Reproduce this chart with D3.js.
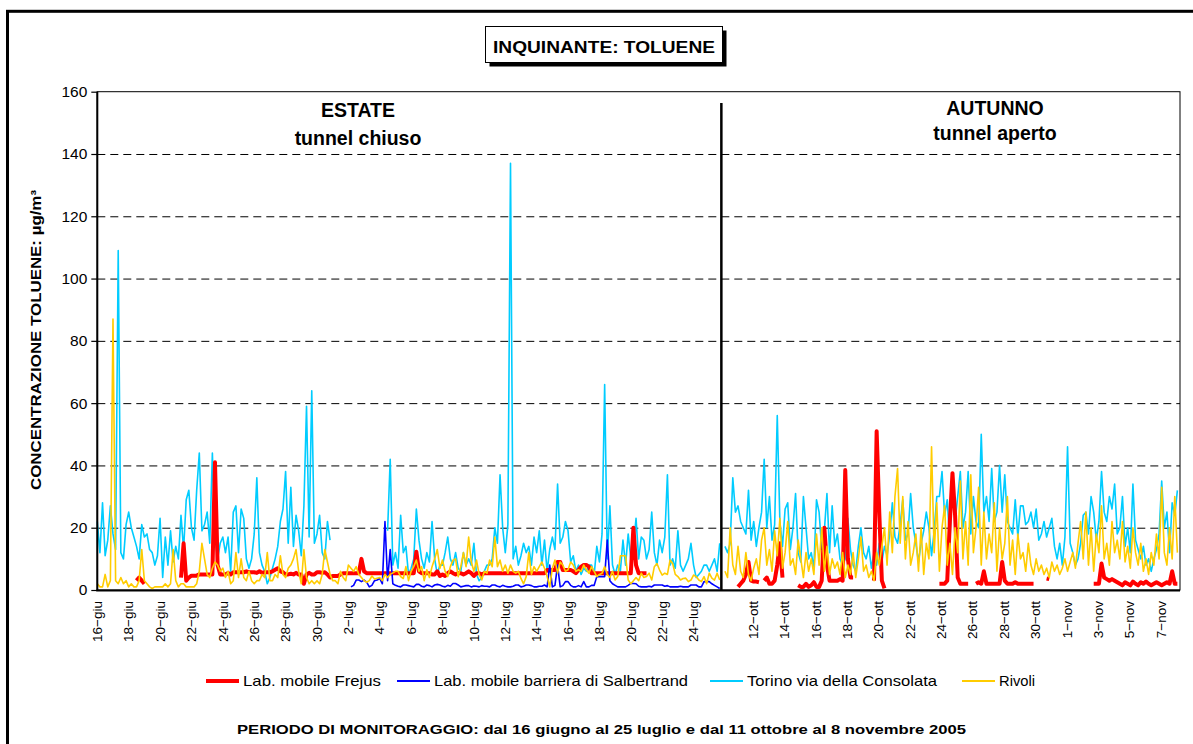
<!DOCTYPE html>
<html>
<head>
<meta charset="utf-8">
<script src="https://cdn.jsdelivr.net/npm/d3@7"></script>
<style>
  body { margin: 0; background: #fff; }
  svg { display: block; font-family: "Liberation Sans", Arial, sans-serif; }
</style>
</head>
<body>
<svg id="chart" width="1193" height="744"></svg>
<script>
// Toluene concentrations (µg/m³), one value every 4 hours.
// Summer campaign: 16 June – 25 July 2005 (6 values per day).
const torinoEstate = [
  22,12,28,11,16,27,  18,13,109,12,10,21,  25,20,17,14,10,21,  17,18,13,12,8,11,
  23,4,17,8,19,9,     14,10,24,13,29,32,   20,16,32,44,19,21,  25,15,44,17,10,15,
  17,12,17,6,25,27,   12,26,23,10,7,10,    18,36,12,8,6,2,     4,7,10,14,22,26,
  38,15,33,14,24,19,  11,27,59,17,64,15,   18,24,12,10,22,16,
  null,null,null,null,null,null,  null,null,null,null,null,null,  null,null,null,null,null,null,
  null,null,null,19,42,8,  12,7,24,12,14,5,  7,10,26,16,10,7,  12,9,22,10,5,8,
  8,12,17,10,8,12,    7,6,12,8,10,8,       15,5,3,4,6,8,       8,10,20,15,37,20,
  12,21,137,10,14,8,  11,15,12,14,8,17,    12,19,8,16,6,13,    17,13,34,15,17,22,
  19,9,11,6,8,5,      7,6,8,8,5,14,        9,18,66,10,27,8,    5,8,6,16,8,18,
  10,14,23,10,17,16,  10,13,25,12,8,16,    12,17,37,8,10,7,    19,8,6,8,10,15,
  8,4,5,6,8,8,        6,8,10,6,15
];
const rivoliEstate = [
  2,1,1,5,1,3,        87,3,2,4,2,3,        1,2,1,1,3,13,       3,2,1,0.5,1,1,
  1,1,2,1,2,13,       3,1,2,2,1,1,         1,1,2,6,15,10,      5,4,7,9,8,6,
  7,4,6,2,3,12,       4,10,4,3,6,3,        2,3,3,5,4,12,       3,3,5,4,11,5,
  4,7,8,10,13,6,      2,13,4,2,3,2,        3,2,5,13,9,5,       3,3,2,6,4,3,
  8,7,6,7.5,5,4,      3,2.5,3,4.5,3.5,3.8, 4,3,5,4,5,5.5,      6,6,4.3,3.7,7.5,3,
  6,7.5,9.6,6,7.5,3,  6.5,4,7.5,10,13,7,   9.6,6,4.3,7.5,9.6,10, 4.3,7.5,12,7.5,17,9,
  6,9.6,5,3.2,6,5.4,  9.6,7.5,17,7.5,9.6,6, 8,5.4,8,6,5.4,6,   3.7,2,4.3,12,5,7.5,
  6,7.5,9,7,4.3,1,    7,9.6,5.4,9,8,6,     6.5,9,8,6,6.5,6,    8,6.5,5.4,7.5,6,4.3,
  5,5.4,7.5,5,4,6,    3.2,4.3,11,11,11,3.2, 2,3,4,3,5.4,4,     4.3,5.4,3.2,7.5,8.5,6.4,
  4.8,5.4,5,9.6,8.5,5, 4.3,3.2,3.7,3.8,2.7,3.2, 4.8,4.3,3.2,2.7,4.3,2, 5.4,3.8,3.2,5.4,3.2
];
const frejusEstate = [
  null,null,null,null,null,null,  null,null,null,null,null,null,  null,null,null,3,4,3,
  2,null,null,null,null,null,     null,null,null,null,null,null,  null,null,4,15,3,4,
  4.6,4.6,4.6,5,5,5,  5,5,5,41,8,5,        5,5,5.5,5,5.7,5.7,  5.7,5.7,5.7,6,5.7,5.7,
  5.7,5.5,6,5.5,5.7,5.7, 5.7,6,6.5,7,6,5.7, 5,5,5.2,5,5.5,5,   5,2,5,5.5,5,5,
  5.7,5.7,5.5,5.7,5,4, 4.5,4.5,4.5,5,5.4,5.4, 5.4,5.4,5.4,5.4,5.4,10, 6,5.4,5.4,5.4,5.4,5.4,
  5.4,5.4,5.4,5.4,5.4,5.4, 5.4,5.4,5.4,5.4,5.4,5.4, 5.4,5.4,12.3,6,5.4,5.4, 5.4,5.4,5,5,6,4.5,
  5,4.5,5.4,6,5.4,5,  5.4,5.4,5,5.4,6,5.4, 4.5,5.4,5.4,5,5.4,5.4, 5.4,5.4,5.4,5.4,5.4,5.4,
  5.4,5.4,5.4,5.4,5.4,5.4, 5.4,5.4,5.4,5.4,5.4,5.4, 5.4,5.4,5.4,5.4,6.4,6.4, 6.4,6.4,9,9,6.4,6.4,
  6.4,6.4,6,5.4,6.4,7.5, 8,8,7.5,5.4,5.4,5.4, 5.4,5.4,5.4,5.4,5.4,5.4, 5.4,5.4,5.4,5.4,5.4,5.4,
  5.4,20,8,5.4,5.4,5.4, 5.4,null,null,null,null,null,
  null,null,null,null,null,null,  null,null,null,null,null,null,  null,null,null,null,null,null,
  null,null,null,null,null
];
const salbertrandEstate = [
  null,null,null,null,null,null,  null,null,null,null,null,null,  null,null,null,null,null,null,
  null,null,null,null,null,null,  null,null,null,null,null,null,  null,null,null,null,null,null,
  null,null,null,null,null,null,  null,null,null,null,null,null,  null,null,null,null,null,null,
  null,null,null,null,null,null,  null,null,null,null,null,null,  null,null,null,null,null,null,
  null,null,null,null,null,null,  null,null,null,null,null,null,  null,null,null,null,null,null,
  null,null,null,null,null,null,
  null,1,1.5,3.2,3.2,2.7,  3.2,2.5,1,1.5,3,3.2,  3.7,2,22,3,13,2,   1.5,1.2,1,1.6,1.6,1.4,
  1.2,1,1.8,1.8,1.2,1,     1.6,1.4,1,1.6,1.8,1.6, 1.2,1,1.5,1.2,2.1,2.1, 1.6,1,1.2,1.4,1.4,1,
  1.3,1.2,1,1.4,1.2,1.2,   1,1.6,1.6,1.2,1,1.5,   1.2,1,1,1.2,1.6,1.6,   1,1.2,1.6,1.6,1.4,1,
  1,1.2,1.2,1.6,1,8,       1,1.5,8,1,1.4,2.7,     2.7,1.5,1,1,1.4,1,     2.7,1,1,1.5,1.5,4.3,
  4.3,4.3,4.3,16,3,2,      1.5,1,1,1,1,1.5,       2.1,2.1,2,1.2,1,1,     1,1.2,1,1.6,1.6,1.6,
  1.6,1.2,1.4,1,1,1,       1,1.2,1,1,1,1.6,       1.6,1.6,1,1,2.7,2.7,   2.7,2,1.5,1,0.5
];

// Autumn campaign: 11 October – 8 November 2005 (6 values per day).
const torinoAutunno = [
  14,12,15,36,25,27,  22,20,18,32,16,22,  14,20,25,42,20,30,  16,21,56,22,14,26,
  28,13,20,31,12,9,   30,20,10,12,7,29,   25,13,19,31,12,27,  14,18,10,8,10,23,
  13,8,6,14,20,12,    10,14,7,12,8,15,    9,14,11,18,28,17,   15,21,29,16,18,31,
  20,15,9,15,19,25,   20,11,19,30,30,38,  24,29,15,36,22,30,  38,20,25,38,18,30,
  22,20,50,25,30,22,  39,22,25,40,25,37,  22,20,18,29,17,27,  27,21,22,25,20,26,
  16,18,22,17,20,23,  14,10,15,8,17,46,   15,12,8,10,15,24,   25,18,30,25,16,22,
  38,25,22,30,26,34,  18,20,30,14,20,12,  34,16,13,10,14,8,   10,6,10,13,18,35,
  20,25,12,28,24,32
];
const rivoliAutunno = [
  6,4,20,8,5,14,      6,4,12,5,3,7,       10,5,16,20,8,13,    6,19,11,23,7,12,
  22,8,10,5,16,10,    4,12,6,10,5,18,     8,20,6,14,5,10,     7,9,5,12,4,8,
  5,12,4,10,17,6,     8,4,6,3,12,8,       14,20,8,25,12,30,   39,15,30,10,22,8,
  12,18,6,20,5,15,    10,46,12,28,6,20,   27,8,15,5,20,12,    35,10,22,8,37,12,
  20,33,8,25,10,18,   12,28,6,20,10,15,   30,8,16,5,18,10,    12,6,15,8,5,10,
  6,8,5,7,4,9,        6,8,5,7,10,6,       9,12,7,15,22,10,    25,8,20,6,18,12,
  27,10,15,8,22,12,   16,10,22,9,14,7,    20,12,8,15,6,10,    5,12,8,18,10,33,
  12,8,20,10,30,12
];
const frejusAutunno = [
  null,null,null,null,null,1,  2,3,5,9,3,2.7,  2.7,2.5,null,3,4,2,  2,3,8,15,4,null,
  null,null,null,null,1.5,1,   1,2,1,1.5,2.5,1, 1,3,20,8,3,3,     3,3,3.5,3,38.5,10,
  4,4,null,null,null,null,     null,null,null,3,51,25,  3,0.5,null,null,null,null,
  null,null,null,null,null,null,  null,null,null,null,null,null,  null,null,null,null,2,2,
  2,3,22,37.5,24,4,   2,2,2,2,null,null,  2,2.5,2,6,2,2,   2,2,2,2,9,3,
  2,2,2,2.5,2,2,      2,2,2,2,2,null,     null,null,null,3.7,3.5,null,
  null,null,null,null,null,null,  null,null,null,null,null,null,  null,null,null,2,2,2,
  8.5,4,3.5,3,3.5,3,  2.5,2,1.5,2.5,2,1.5,  2.7,2,1.5,2.5,2,2.7,  2,1.5,2,2.5,2,1.5,
  2,2.5,2,6,2,2
];

// Day labels on the time axis (every second day)
const labelsEstate = ["16−giu","18−giu","20−giu","22−giu","24−giu","26−giu","28−giu","30−giu",
  "2−lug","4−lug","6−lug","8−lug","10−lug","12−lug","14−lug","16−lug","18−lug","20−lug","22−lug","24−lug"];
const labelsAutunno = ["12−ott","14−ott","16−ott","18−ott","20−ott","22−ott","24−ott","26−ott",
  "28−ott","30−ott","1−nov","3−nov","5−nov","7−nov"];
const yTicks = [0, 20, 40, 60, 80, 100, 120, 140, 160];

const seriesNames = ["Lab. mobile Frejus", "Lab. mobile barriera di Salbertrand", "Torino via della Consolata", "Rivoli"];
const seriesColors = ["#ff0000", "#0000ff", "#00ccff", "#ffcc00"];

// ---- layout ----
const STEP = 4;               // hours between values
const AUTUMN_START = 960;     // hour slot where the autumn campaign begins on the axis
const TOTAL = 1656;           // total hour slots on the axis
const svg = d3.select("#chart");

const x = d3.scaleLinear().domain([0, TOTAL]).range([97.3, 1180]);
const y = d3.scaleLinear().domain([0, 160]).range([590, 91.7]);

function toPoints(summer, autumn) {
  const pts = summer.map((v, i) => ({ t: i * STEP, v }));
  pts.push({ t: (summer.length) * STEP, v: null });
  (autumn || []).forEach((v, j) => pts.push({ t: AUTUMN_START + j * STEP, v }));
  return pts;
}

const data = [
  toPoints(frejusEstate, frejusAutunno),
  toPoints(salbertrandEstate, null),
  toPoints(torinoEstate, torinoAutunno),
  toPoints(rivoliEstate, rivoliAutunno)
];

// outer frame
svg.append("rect").attr("x", 7.5).attr("y", 11.3).attr("width", 1200).attr("height", 760)
  .attr("fill", "none").attr("stroke", "#000").attr("stroke-width", 3);

// title box with shadow
svg.append("rect").attr("x", 489.5).attr("y", 30.5).attr("width", 237).attr("height", 36).attr("fill", "#000");
svg.append("rect").attr("x", 485.5).attr("y", 26.5).attr("width", 237).attr("height", 36)
  .attr("fill", "#fff").attr("stroke", "#000").attr("stroke-width", 1);
svg.append("text").attr("x", 604).attr("y", 53).attr("text-anchor", "middle")
  .attr("font-weight", "bold").attr("font-size", 17).attr("textLength", 222).attr("lengthAdjust", "spacingAndGlyphs")
  .text("INQUINANTE: TOLUENE");

// gridlines
svg.append("g").selectAll("line").data(yTicks.filter(v => v > 0 && v < 160)).join("line")
  .attr("x1", x(0)).attr("x2", x(TOTAL)).attr("y1", d => y(d) + 0.5).attr("y2", d => y(d) + 0.5)
  .attr("stroke", "#000").attr("stroke-width", 1).attr("stroke-dasharray", "8,5");

// plot frame
svg.append("rect").attr("x", x(0)).attr("y", y(160)).attr("width", x(TOTAL) - x(0)).attr("height", y(0) - y(160))
  .attr("fill", "none").attr("stroke", "#000").attr("stroke-width", 1);

// y axis
const yAxis = svg.append("g").attr("transform", `translate(${x(0)},0)`)
  .call(d3.axisLeft(y).tickValues(yTicks).tickSize(6).tickPadding(4).tickFormat(d3.format("d")));
yAxis.select(".domain").remove();
yAxis.selectAll(".tick line").attr("stroke", "#000").attr("stroke-width", 1.2);
yAxis.selectAll(".tick text").attr("font-size", 15.5).attr("font-family", "Liberation Sans, Arial, sans-serif").attr("fill", "#000");

// series lines
const line = d3.line().defined(d => d.v != null).x(d => x(d.t)).y(d => y(d.v));
const order = [2, 0, 1, 3];
order.forEach(k => {
  svg.append("path").datum(data[k]).attr("d", line)
    .attr("fill", "none").attr("stroke", seriesColors[k])
    .attr("stroke-width", k === 0 ? 4 : 1.6)
    .attr("stroke-linejoin", "round");
});

// axes lines (thicker)
svg.append("line").attr("x1", x(0)).attr("x2", x(0)).attr("y1", y(160)).attr("y2", y(0) + 1)
  .attr("stroke", "#000").attr("stroke-width", 2);
svg.append("line").attr("x1", x(0) - 1).attr("x2", x(TOTAL)).attr("y1", y(0) + 0.5).attr("y2", y(0) + 0.5)
  .attr("stroke", "#000").attr("stroke-width", 2);

// season separator
svg.append("line").attr("x1", x(954.5)).attr("x2", x(954.5)).attr("y1", 103).attr("y2", y(0))
  .attr("stroke", "#000").attr("stroke-width", 2.5);

// x labels
const xl = svg.append("g").attr("font-size", 13.5);
const tickPos = labelsEstate.map((s, i) => ({ s, t: i * 48 }))
  .concat(labelsAutunno.map((s, i) => ({ s, t: 1003 + i * 48 })));
xl.selectAll("text").data(tickPos).join("text")
  .attr("transform", d => `translate(${x(d.t)},601) rotate(-90)`)
  .attr("text-anchor", "end").attr("dy", "0.35em")
  .text(d => d.s);

// season captions
const cap = svg.append("g").attr("font-weight", "bold").attr("font-size", 19.5).attr("text-anchor", "middle");
cap.append("text").attr("x", 358).attr("y", 116.5).text("ESTATE");
cap.append("text").attr("x", 358).attr("y", 144.5).text("tunnel chiuso");
cap.append("text").attr("x", 995).attr("y", 115).text("AUTUNNO");
cap.append("text").attr("x", 995).attr("y", 139.5).text("tunnel aperto");

// y axis title
svg.append("text").attr("transform", "translate(41,340) rotate(-90)").attr("text-anchor", "middle")
  .attr("font-weight", "bold").attr("font-size", 14).attr("textLength", 300).attr("lengthAdjust", "spacingAndGlyphs")
  .text("CONCENTRAZIONE TOLUENE:  µg/m³");

// legend
const legendX = [206, 397, 710, 962];
const legendW = [138, 254, 190, 36];
const lg = svg.append("g");
seriesNames.forEach((n, k) => {
  lg.append("line").attr("x1", legendX[k]).attr("x2", legendX[k] + 33).attr("y1", 681).attr("y2", 681)
    .attr("stroke", seriesColors[k]).attr("stroke-width", k === 0 ? 4 : 2);
  lg.append("text").attr("x", legendX[k] + 37).attr("y", 686).attr("font-size", 15)
    .attr("textLength", legendW[k]).attr("lengthAdjust", "spacingAndGlyphs").text(n);
});

// footer
svg.append("text").attr("x", 601.5).attr("y", 734).attr("text-anchor", "middle")
  .attr("font-weight", "bold").attr("font-size", 13).attr("textLength", 729).attr("lengthAdjust", "spacingAndGlyphs")
  .text("PERIODO DI MONITORAGGIO: dal 16 giugno al 25 luglio e dal 11 ottobre al 8 novembre 2005");
</script>
</body>
</html>
